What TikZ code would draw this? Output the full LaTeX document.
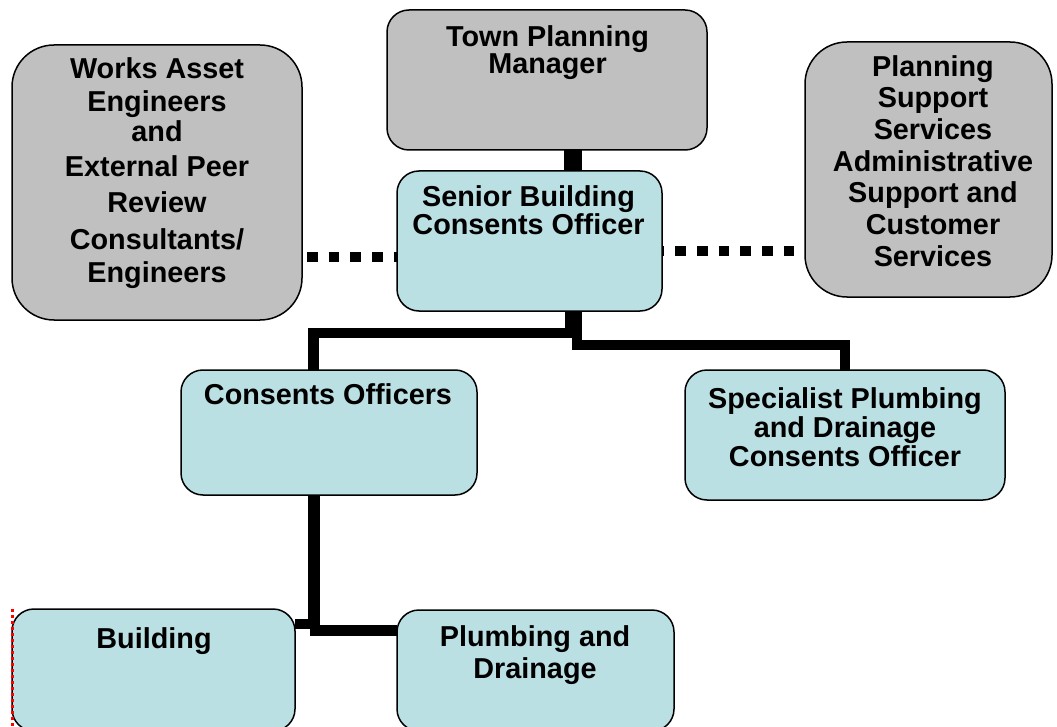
\documentclass[tikz,border=0pt]{standalone}
\usepackage{fontspec}
\setmainfont{Liberation Sans}
\definecolor{boxgray}{HTML}{C0C0C0}
\definecolor{boxblue}{HTML}{BBE0E3}
\begin{document}
\begin{tikzpicture}[x=1pt,y=-1pt,
  box/.style={draw=black, line width=1.5pt, rounded corners=22pt, inner sep=0pt, outer sep=0pt},
  graybox/.style={box, fill=boxgray},
  bluebox/.style={box, fill=boxblue},
  bigcorner/.style={rounded corners=42pt},
  txt/.style={anchor=north, inner sep=0pt, align=center, font=\bfseries\fontsize{28.8}{#1}\selectfont},
  txt/.default=31,
  conn/.style={line width=10.5pt, black},
  dots/.style={line width=10.5pt, black, dash pattern=on 10.7pt off 11pt},
  redmark/.style={red, line width=3pt, dash pattern=on 3pt off 3pt}
]
\useasboundingbox (0,0) rectangle (1057,727);
% boxes
\node[graybox, bigcorner, minimum width=290pt, minimum height=275pt] (works) at (157,182.5) {};
\node[graybox, minimum width=320pt, minimum height=140pt] (town) at (547,80) {};
\node[graybox, bigcorner, minimum width=247pt, minimum height=255pt] (plan) at (928.5,169.5) {};
\node[bluebox, minimum width=265pt, minimum height=140pt] (senior) at (529.5,241) {};
\node[bluebox, minimum width=296pt, minimum height=125pt] (cons) at (329,432.5) {};
\node[bluebox, minimum width=320pt, minimum height=130pt] (spec) at (845,435) {};
\node[bluebox, minimum width=283pt, minimum height=122pt] (build) at (153.5,670) {};
\node[bluebox, minimum width=277pt, minimum height=121pt] (plumb) at (535.5,670.5) {};
% texts
\node[txt=34.2] (worksT) at (157,57) {Works Asset\\[-1.2pt]Engineers\\[-4.2pt]and\\[0.8pt]External Peer\\[2.5pt]Review\\[2.1pt]Consultants/\\[-0.5pt]Engineers};
\node[txt=27.7] (townT) at (547.5,25) {Town Planning\\Manager};
\node[txt=31.7] (planT) at (933,55) {Planning\\Support\\Services\\Administrative\\Support and\\Customer\\Services};
\node[txt=28.3] (seniorT) at (528.5,185) {Senior Building\\Consents Officer};
\node[txt] (consT) at (328,383) {Consents Officers};
\node[txt=29] (specT) at (845,387) {Specialist Plumbing\\and Drainage\\Consents Officer};
\node[txt] (buildT) at (154,627) {Building};
\node[txt=32] (plumbT) at (535,625) {Plumbing and\\Drainage};
% connectors
\draw[line width=18pt] ([xshift=26pt]town.south) -- ([xshift=43.5pt]senior.north);
\draw[conn] ([xshift=40.5pt]senior.south) -- ++(0,22) -| ([xshift=-15.5pt]cons.north);
\draw[conn] ([xshift=47.5pt]senior.south) -- ++(0,34) -| (spec.north);
\draw[conn] ([xshift=-16pt]cons.south) |- ([yshift=46pt]build.east);
\draw[conn] ([xshift=-14pt]cons.south) |- ([yshift=40pt]plumb.west);
\draw[dots, dash phase=16.7pt] ([yshift=-74.5pt]works.east) -- ([yshift=-16pt]senior.west);
\draw[dots, dash phase=8.5pt] ([yshift=-10pt]senior.east) -- ([yshift=-81.5pt]plan.west);
% red dotted mark
\draw[redmark] (build.north west) -- (build.south west);
\end{tikzpicture}
\end{document}
